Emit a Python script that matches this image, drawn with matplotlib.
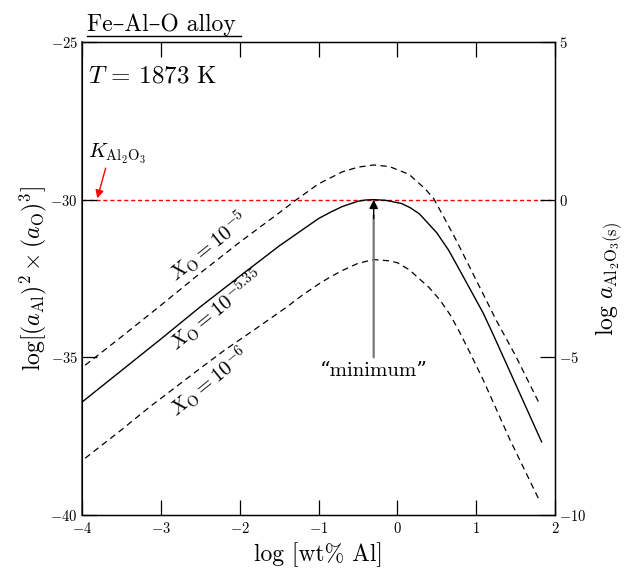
import matplotlib
matplotlib.use("Agg")
import matplotlib.pyplot as plt
from matplotlib.lines import Line2D

plt.rcParams['font.family'] = ['cmr10', 'DejaVu Serif']
plt.rcParams['mathtext.fontset'] = 'cm'
plt.rcParams['axes.formatter.use_mathtext'] = True

# values
# X_O = 10^-5.35 (solid)
x_mid = [-4.0, -3.5, -3.0, -2.5, -2.0, -1.5, -1.0, -0.85, -0.7, -0.5, -0.4, -0.3,
         -0.15, 0.05, 0.16, 0.28, 0.39, 0.5, 0.65, 0.75, 0.86, 1.09, 1.22, 1.5, 1.83]
y_mid = [-36.42, -35.42, -34.42, -33.40, -32.43, -31.47, -30.6, -30.4, -30.22, -30.05,
         -30.01, -30.0, -30.02, -30.12, -30.25, -30.45, -30.75, -31.05, -31.6, -32.05,
         -32.55, -33.6, -34.3, -35.85, -37.68]

# X_O = 10^-5 (upper dashed)
x_hi = [-3.96, -3.5, -3.0, -2.46, -2.0, -1.5, -1.28, -1.0, -0.7, -0.5, -0.3, -0.1,
        0.15, 0.35, 0.46, 0.6, 0.75, 1.0, 1.26, 1.5, 1.81]
y_hi = [-35.25, -34.35, -33.35, -32.25, -31.35, -30.42, -30.0, -29.5, -29.12, -28.97,
        -28.9, -28.95, -29.2, -29.65, -29.96, -30.6, -31.3, -32.55, -33.85, -34.95,
        -36.51]

# X_O = 10^-6 (lower dashed)
x_lo = [-3.96, -3.5, -3.14, -2.5, -2.19, -1.8, -1.4, -1.2, -1.0, -0.85, -0.7, -0.5,
        -0.3, -0.1, 0.0, 0.15, 0.27, 0.4, 0.54, 0.67, 0.79, 0.94, 1.09, 1.43, 1.81]
y_lo = [-38.2, -37.3, -36.57, -35.35, -34.77, -34.1, -33.4, -33.02, -32.68, -32.45,
        -32.25, -32.02, -31.9, -31.94, -32.0, -32.22, -32.49, -32.78, -33.18, -33.65,
        -34.2, -34.95, -35.72, -37.62, -39.58]

log_K = -30.0
x_min = -0.3

x_ticks = [-4, -3, -2, -1, 0, 1, 2]
y_ticks_left = [-40, -35, -30, -25]
y_ticks_right = [-10, -5, 0, 5]

fig = plt.figure(figsize=(6.25, 5.69), dpi=100)
ax = fig.add_axes([0.1312, 0.0949, 0.7568, 0.8313])

ax.axhline(log_K, color='red', lw=1.0, dashes=(3, 2), zorder=1)
ax.plot(x_mid, y_mid, color='black', lw=1.0)
ax.plot(x_hi, y_hi, color='black', lw=0.9, dashes=(5, 3.5))
ax.plot(x_lo, y_lo, color='black', lw=0.9, dashes=(5, 3.5))

ax.set_xlim(-4, 2)
ax.set_ylim(-40, -25)
ax.set_xticks(x_ticks)
ax.set_yticks(y_ticks_left)
ax.tick_params(axis='x', direction='in', length=11, width=0.9, top=True,
               labelsize=10.5, pad=4)
ax.tick_params(axis='y', direction='in', length=11, width=0.9, labelsize=10.5, pad=3)
for s in ax.spines.values():
    s.set_linewidth(1.0)
ax.spines['left'].set_color('#555555')
ax.spines['left'].set_linewidth(1.4)

ax2 = ax.twinx()
ax2.set_ylim(-10, 5)
ax2.set_yticks(y_ticks_right)
ax2.tick_params(axis='y', direction='in', length=11, width=0.9, labelsize=10.5, pad=3)

ax.set_xlabel('log [wt% Al]', fontsize=17, labelpad=5)
ax.set_ylabel(r'$\log[(a_{\mathrm{Al}})^2\times(a_{\mathrm{O}})^3]$', fontsize=17,
              labelpad=1)
ax2.set_ylabel(r'$\log\,a_{\mathrm{Al_2O_3(s)}}$', fontsize=17, labelpad=5)

# curve labels
ax.text(-2.39, -31.5, r'$X_{\mathrm{O}} = 10^{-5}$', fontsize=15, rotation=39,
        ha='center', va='center')
ax.text(-2.30, -33.5, r'$X_{\mathrm{O}} = 10^{-5.35}$', fontsize=15, rotation=39,
        ha='center', va='center')
ax.text(-2.39, -35.8, r'$X_{\mathrm{O}} = 10^{-6}$', fontsize=15, rotation=39,
        ha='center', va='center')

ax.text(-3.93, -26.1, r'$T$ = 1873 K', fontsize=18, ha='left', va='center')

# K annotation
ax.text(-3.56, -28.55, r'$K_{\mathrm{Al_2O_3}}$', fontsize=15, ha='center',
        va='center')
ax.annotate('', xy=(-3.806, log_K + 0.04), xytext=(-3.70, -29.0),
            arrowprops=dict(arrowstyle='-|>', color='red', lw=1.0,
                            mutation_scale=12, shrinkA=0, shrinkB=0))

# minimum annotation
ax.annotate('', xy=(x_min, -30.5), xytext=(x_min, -35.0),
            arrowprops=dict(arrowstyle='-', color='#777777', lw=1.6,
                            shrinkA=0, shrinkB=0))
ax.annotate('', xy=(x_min, log_K), xytext=(x_min, -30.6),
            arrowprops=dict(arrowstyle='-|>', color='black', lw=1.0,
                            mutation_scale=13, shrinkA=0, shrinkB=0))
ax.text(x_min, -35.45, '\u201cminimum\u201d', fontsize=15, ha='center', va='center')

# title with underline
fig.text(0.1395, 0.945, 'Fe\u2013Al\u2013O alloy', fontsize=17, ha='left',
         va='baseline')
fig.add_artist(Line2D([0.1395, 0.386], [0.937, 0.937], color='black', lw=1.0,
                      transform=fig.transFigure))

fig.savefig('out.png', dpi=100)
